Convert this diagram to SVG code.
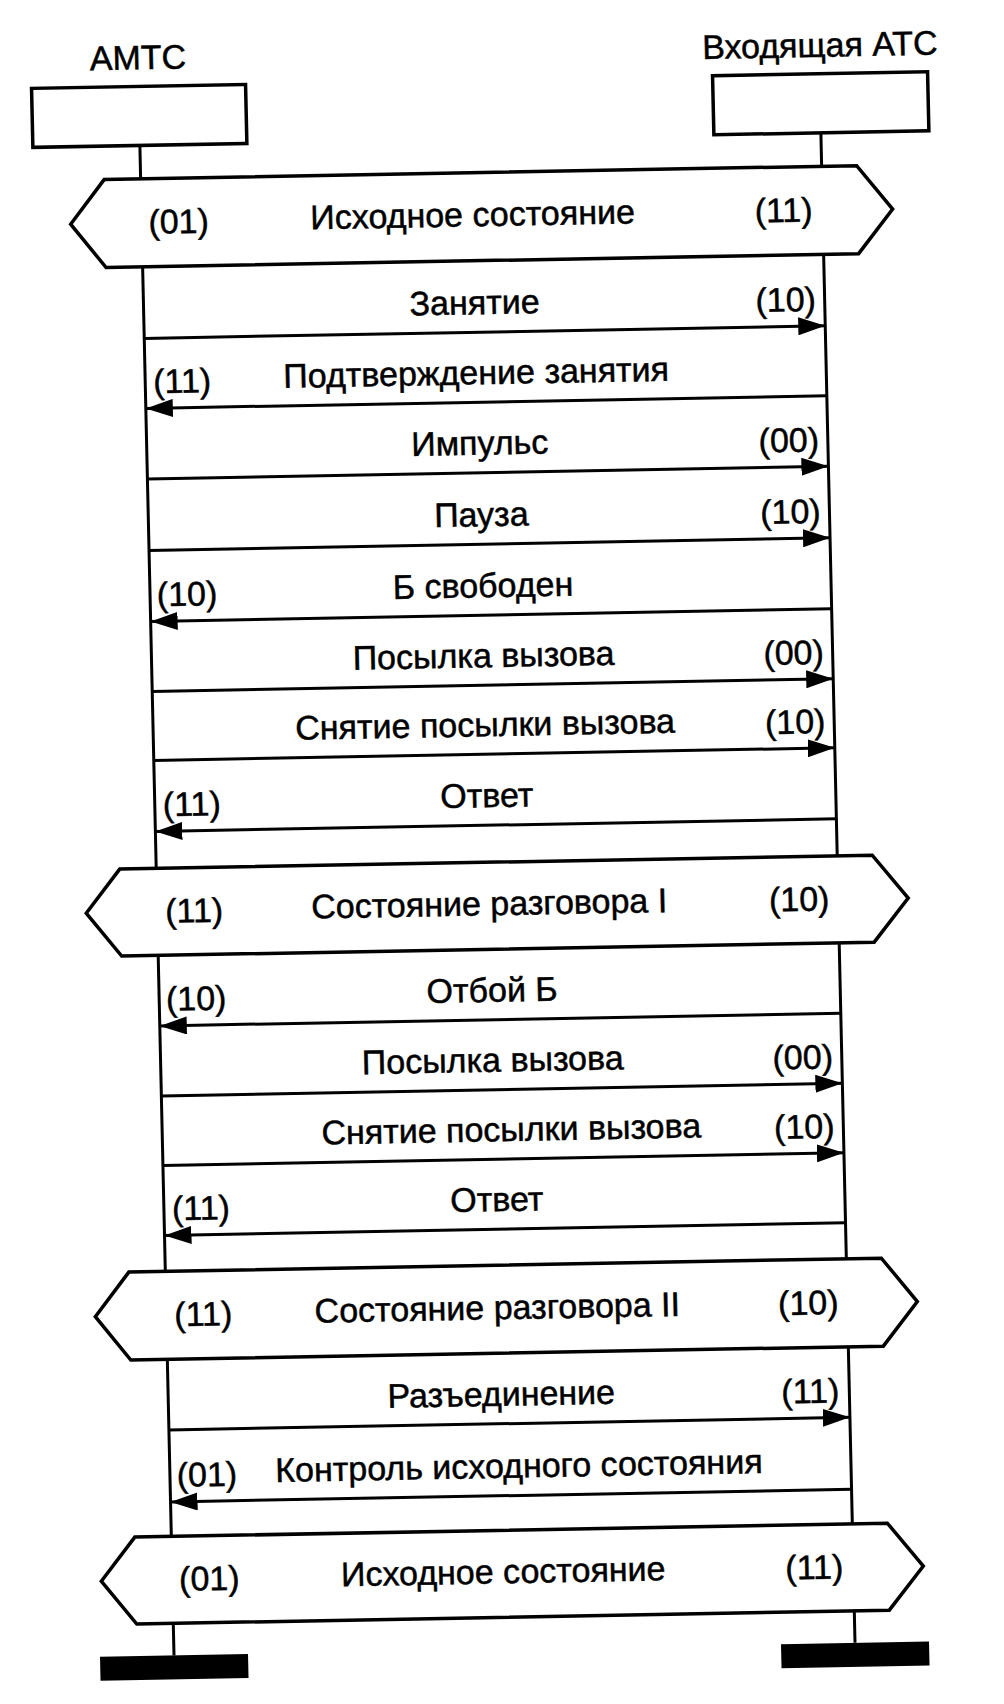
<svg xmlns="http://www.w3.org/2000/svg" width="1004" height="1704" viewBox="0 0 1004 1704">
<style>
.ln{stroke:#000;stroke-width:3;fill:none}
.box{stroke:#000;stroke-width:3.5;fill:#fff}
.hex{stroke:#000;stroke-width:3.5;fill:#fff;stroke-linejoin:miter}
.bar{fill:#000}
.t{font-family:"Liberation Sans",Arial,sans-serif;font-size:34px;fill:#000;stroke:#000;stroke-width:0.5;text-anchor:middle}
</style>
<defs>
<marker id="ah" markerUnits="userSpaceOnUse" markerWidth="28" markerHeight="18" refX="27" refY="9" orient="auto">
<path d="M0,0 L27,9 L0,18 Z" fill="#000"/>
</marker>
</defs>
<rect width="1004" height="1704" fill="#fff"/>
<g transform="matrix(1 -0.0185 0.0226 1 -19.26 9.29)">
<g id="connectors">
<path class="ln" d="M156,139 V172.5 M156,260.5 V862 M156,949 V1265 M156,1353 V1530 M156,1617 V1649"/>
<path class="ln" d="M837,139 V172.5 M837,260.5 V862 M837,949 V1265 M837,1353 V1530 M837,1617 V1649"/>
<line class="ln" x1="156" y1="332" x2="837" y2="332" marker-end="url(#ah)"/>
<line class="ln" x1="837" y1="402" x2="156" y2="402" marker-end="url(#ah)"/>
<line class="ln" x1="156" y1="472.5" x2="837" y2="472.5" marker-end="url(#ah)"/>
<line class="ln" x1="156" y1="544" x2="837" y2="544" marker-end="url(#ah)"/>
<line class="ln" x1="837" y1="615" x2="156" y2="615" marker-end="url(#ah)"/>
<line class="ln" x1="156" y1="685" x2="837" y2="685" marker-end="url(#ah)"/>
<line class="ln" x1="156" y1="754" x2="837" y2="754" marker-end="url(#ah)"/>
<line class="ln" x1="837" y1="825" x2="156" y2="825" marker-end="url(#ah)"/>
<line class="ln" x1="837" y1="1019.5" x2="156" y2="1019.5" marker-end="url(#ah)"/>
<line class="ln" x1="156" y1="1089.5" x2="837" y2="1089.5" marker-end="url(#ah)"/>
<line class="ln" x1="156" y1="1159" x2="837" y2="1159" marker-end="url(#ah)"/>
<line class="ln" x1="837" y1="1229" x2="156" y2="1229" marker-end="url(#ah)"/>
<line class="ln" x1="156" y1="1423.5" x2="837" y2="1423.5" marker-end="url(#ah)"/>
<line class="ln" x1="837" y1="1495.5" x2="156" y2="1495.5" marker-end="url(#ah)"/>
</g>
<g id="amts">
<text class="t" x="156" y="63">АМТС</text>
<rect class="box" x="49" y="80" width="214" height="59"/>
</g>
<g id="incoming">
<text class="t" x="838" y="63">Входящая АТС</text>
<rect class="box" x="730" y="80" width="215" height="59"/>
</g>
<g id="state1">
<polygon class="hex" points="85,216.5 119.5,172.5 872,172.5 907,216.5 872,260.5 119.5,260.5"/>
<text class="t" x="193" y="227.5">(01)</text>
<text class="t" x="487" y="226">Исходное состояние</text>
<text class="t" x="798" y="227.5">(11)</text>
</g>
<g id="state2">
<polygon class="hex" points="85,905.5 119.5,862 872,862 907,905.5 872,949 119.5,949"/>
<text class="t" x="193" y="916.5">(11)</text>
<text class="t" x="488" y="915">Состояние разговора I</text>
<text class="t" x="798" y="916.5">(10)</text>
</g>
<g id="state3">
<polygon class="hex" points="85,1309 119.5,1265 872,1265 907,1309 872,1353 119.5,1353"/>
<text class="t" x="193" y="1320">(11)</text>
<text class="t" x="487" y="1319">Состояние разговора II</text>
<text class="t" x="798" y="1320">(10)</text>
</g>
<g id="state4">
<polygon class="hex" points="85,1573.5 119.5,1530 872,1530 907,1573.5 872,1617 119.5,1617"/>
<text class="t" x="193" y="1584.5">(01)</text>
<text class="t" x="487" y="1583">Исходное состояние</text>
<text class="t" x="798" y="1584.5">(11)</text>
</g>
<g id="end-amts">
<rect class="bar" x="82" y="1649" width="148" height="24"/>
</g>
<g id="end-incoming">
<rect class="bar" x="763" y="1649" width="148" height="24"/>
</g>
<g id="message-labels">
<text class="t" x="487" y="314">Занятие</text>
<text class="t" x="798" y="317">(10)</text>
<text class="t" x="487" y="384">Подтверждение занятия</text>
<text class="t" x="193" y="387">(11)</text>
<text class="t" x="489" y="454.5">Импульс</text>
<text class="t" x="798" y="457.5">(00)</text>
<text class="t" x="489" y="526">Пауза</text>
<text class="t" x="798" y="529">(10)</text>
<text class="t" x="489" y="597">Б свободен</text>
<text class="t" x="193" y="600">(10)</text>
<text class="t" x="488" y="667">Посылка вызова</text>
<text class="t" x="798" y="670">(00)</text>
<text class="t" x="488" y="736">Снятие посылки вызова</text>
<text class="t" x="798" y="739">(10)</text>
<text class="t" x="488" y="807">Ответ</text>
<text class="t" x="193" y="810">(11)</text>
<text class="t" x="489" y="1001.5">Отбой Б</text>
<text class="t" x="193" y="1004.5">(10)</text>
<text class="t" x="488" y="1071.5">Посылка вызова</text>
<text class="t" x="798" y="1074.5">(00)</text>
<text class="t" x="505" y="1141">Снятие посылки вызова</text>
<text class="t" x="798" y="1144">(10)</text>
<text class="t" x="489" y="1211">Ответ</text>
<text class="t" x="193" y="1214">(11)</text>
<text class="t" x="489" y="1405.5">Разъединение</text>
<text class="t" x="798" y="1408.5">(11)</text>
<text class="t" x="505" y="1477.5">Контроль исходного состояния</text>
<text class="t" x="193" y="1480.5">(01)</text>
</g>
</g>
</svg>
